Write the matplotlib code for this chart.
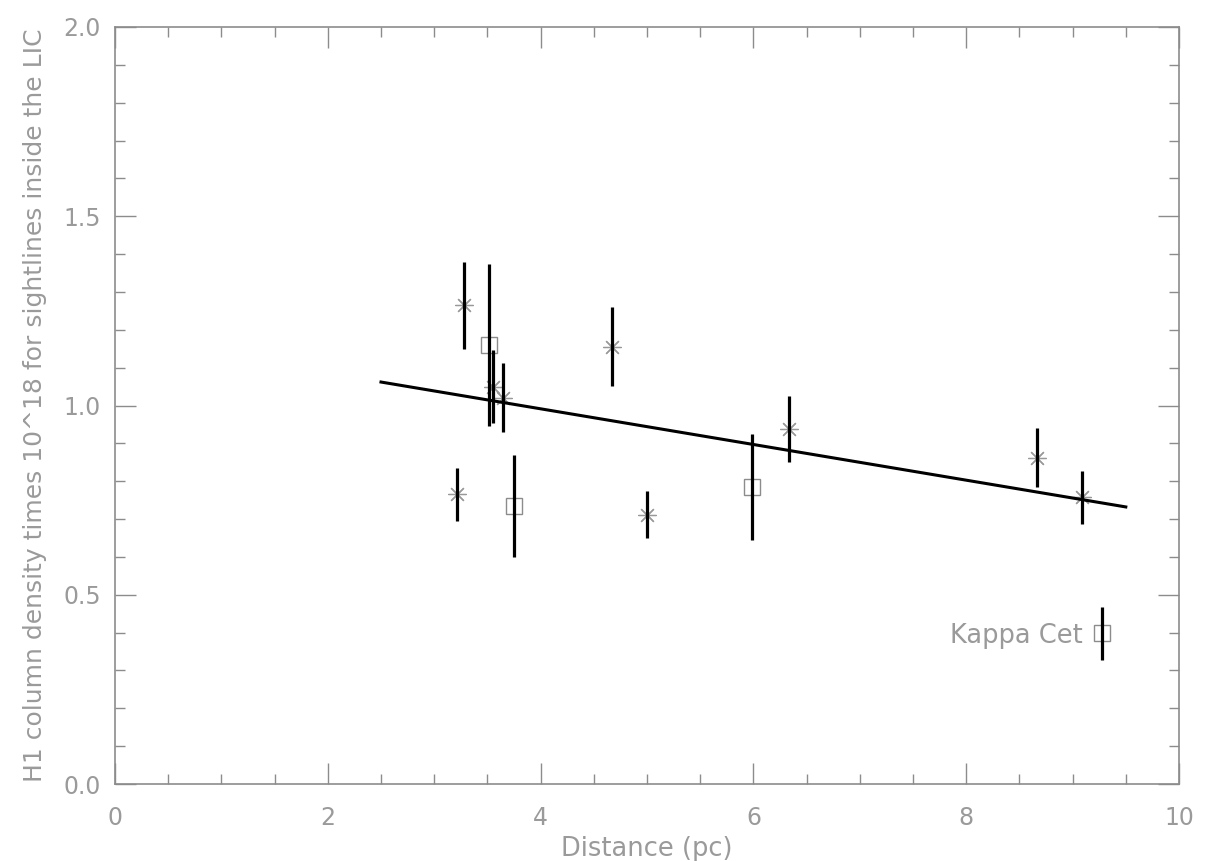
import matplotlib
matplotlib.use("Agg")
import matplotlib.pyplot as plt
from matplotlib.ticker import MultipleLocator

# Data (asterisk points)
star_x = [3.28, 3.55, 3.65, 4.67, 3.21, 5.00, 6.33, 8.67, 9.09]
star_y = [1.265, 1.05, 1.02, 1.155, 0.765, 0.712, 0.938, 0.862, 0.757]
star_err = [0.115, 0.097, 0.091, 0.104, 0.069, 0.062, 0.088, 0.078, 0.069]

# Data (square points)
sq_x = [3.515, 3.75, 5.99, 9.28]
sq_y = [1.16, 0.735, 0.785, 0.398]
sq_err = [0.213, 0.135, 0.141, 0.070]

# Fitted line
fit_x = [2.5, 9.5]
fit_y = [1.062, 0.732]

label_text = "Kappa Cet"
label_pos = (9.10, 0.39)

grey = "#8c8c8c"
txt = "#9a9a9a"

plt.rcParams['font.family'] = ['DejaVu Sans']

fig = plt.figure(figsize=(12.17, 8.61), dpi=100)
ax = fig.add_axes([115/1217, 1-784/861, (1179-115)/1217, (784-27)/861])

ax.plot(fit_x, fit_y, color="black", lw=2.2, zorder=3)

ax.plot(star_x, star_y, linestyle="none", marker=(8, 2, 0), markersize=13,
        markeredgewidth=0.9, color="#999999", zorder=2)
ax.plot(sq_x, sq_y, linestyle="none", marker="s", markersize=11,
        markerfacecolor="none", markeredgewidth=1.0, markeredgecolor=grey, zorder=2)

ax.errorbar(star_x, star_y, yerr=star_err, fmt="none", ecolor="black",
            elinewidth=2.3, capsize=0, zorder=4)
ax.errorbar(sq_x, sq_y, yerr=sq_err, fmt="none", ecolor="black",
            elinewidth=2.3, capsize=0, zorder=4)

ax.text(label_pos[0], label_pos[1], label_text, ha="right", va="center",
        fontsize=18.5, color=txt)

ax.set_xlim(0, 10)
ax.set_ylim(0, 2.0)
ax.xaxis.set_major_locator(MultipleLocator(2))
ax.xaxis.set_minor_locator(MultipleLocator(0.5))
ax.yaxis.set_major_locator(MultipleLocator(0.5))
ax.yaxis.set_minor_locator(MultipleLocator(0.1))
ax.xaxis.set_major_formatter(matplotlib.ticker.FuncFormatter(lambda v, p: f"{int(round(v))}"))
ax.yaxis.set_major_formatter(matplotlib.ticker.FuncFormatter(lambda v, p: f"{v:.1f}"))

ax.tick_params(which="both", direction="in", top=True, right=True,
               color=grey, labelcolor=txt, labelsize=17)
ax.tick_params(which="major", length=15, width=1.0)
ax.tick_params(axis="y", which="major", pad=10)
ax.tick_params(axis="x", which="major", pad=16)
ax.tick_params(which="minor", length=7.5, width=1.0)
for s in ax.spines.values():
    s.set_color(grey)
    s.set_linewidth(1.2)

ax.set_xlabel("Distance (pc)", fontsize=18.5, color=txt, labelpad=4)
ax.set_ylabel("H1 column density times 10^18 for sightlines inside the LIC",
              fontsize=18, color=txt, labelpad=12)

fig.savefig("out.png", dpi=100)
